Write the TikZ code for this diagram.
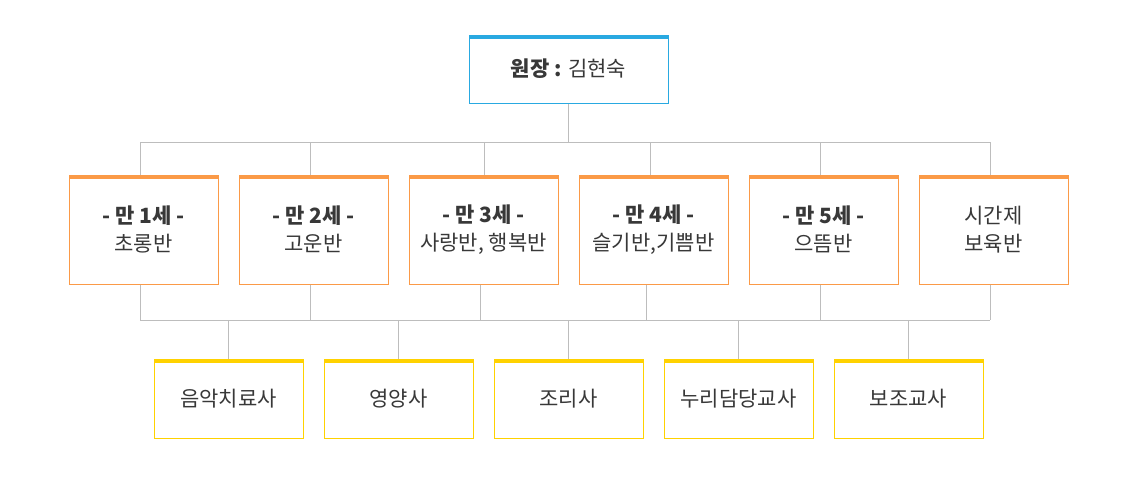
\documentclass[tikz,border=0pt]{standalone}
\usepackage{fontspec}
\setmainfont{Noto Sans CJK KR}
\definecolor{bluebar}{HTML}{29A9E1}
\definecolor{orangebar}{HTML}{FB9A47}
\definecolor{yellowbar}{HTML}{FFD200}
\definecolor{linegray}{HTML}{BDBDBD}
\definecolor{txt}{HTML}{383838}
\tikzset{
  orgbox/.style={draw=#1, line width=1pt, fill=white, inner sep=0pt, align=center,
    text=txt, font=\fontsize{21}{28}\selectfont,
    path picture={\fill[#1] (path picture bounding box.north west) rectangle ([yshift=-4pt]path picture bounding box.north east);}},
  midbox/.style={orgbox=orangebar, minimum width=149pt, minimum height=109pt},
  lowbox/.style={orgbox=yellowbar, minimum width=149pt, minimum height=79pt},
  topbox/.style={orgbox=bluebar, minimum width=199pt, minimum height=68pt},
  conn/.style={draw=linegray, line width=1pt}
}
\begin{document}
\begin{tikzpicture}[x=1pt,y=-1pt]
\useasboundingbox (0,0) rectangle (1138,482);
% top
\node[topbox] (top) at (568.5,69) {\textbf{원장 :} 김현숙};
% middle
\node[midbox] (m1) at (143.5,229.5) {\textbf{- 만 1세 -}\\초롱반};
\node[midbox] (m2) at (313.5,229.5) {\textbf{- 만 2세 -}\\고운반};
\node[midbox] (m3) at (483.5,229.5) {\textbf{- 만 3세 -}\\사랑반, 행복반};
\node[midbox] (m4) at (653.5,229.5) {\textbf{- 만 4세 -}\\슬기반,기쁨반};
\node[midbox] (m5) at (823.5,229.5) {\textbf{- 만 5세 -}\\으뜸반};
\node[midbox] (m6) at (993.5,229.5) {시간제\\보육반};
% bottom
\node[lowbox] (l1) at (228.5,398.5) {음악치료사};
\node[lowbox] (l2) at (398.5,398.5) {영양사};
\node[lowbox] (l3) at (568.5,398.5) {조리사};
\node[lowbox] (l4) at (738.5,398.5) {누리담당교사};
\node[lowbox] (l5) at (908.5,398.5) {보조교사};
% connector coordinates
\coordinate (t1) at (140,142);
\coordinate (t2) at (310,142);
\coordinate (t3) at (484,142);
\coordinate (t4) at (650,142);
\coordinate (t5) at (820,142);
\coordinate (t6) at (990,142);
\coordinate (b1) at (140,320);
\coordinate (b2) at (310,320);
\coordinate (b3) at (480,320);
\coordinate (b4) at (646,320);
\coordinate (b5) at (820,320);
\coordinate (b6) at (990,320);
\draw[conn] (top.south) -- (top.south |- t1);
\draw[conn] (t1) -- (t6);
\foreach \i in {1,...,6} {\draw[conn] (t\i) -- (t\i |- m\i.north);}
\foreach \i in {1,...,6} {\draw[conn] (b\i |- m\i.south) -- (b\i);}
\draw[conn] (b1) -- (b6);
\foreach \i in {1,...,5} {\draw[conn] (l\i.north |- b1) -- (l\i.north);}
\end{tikzpicture}
\end{document}
